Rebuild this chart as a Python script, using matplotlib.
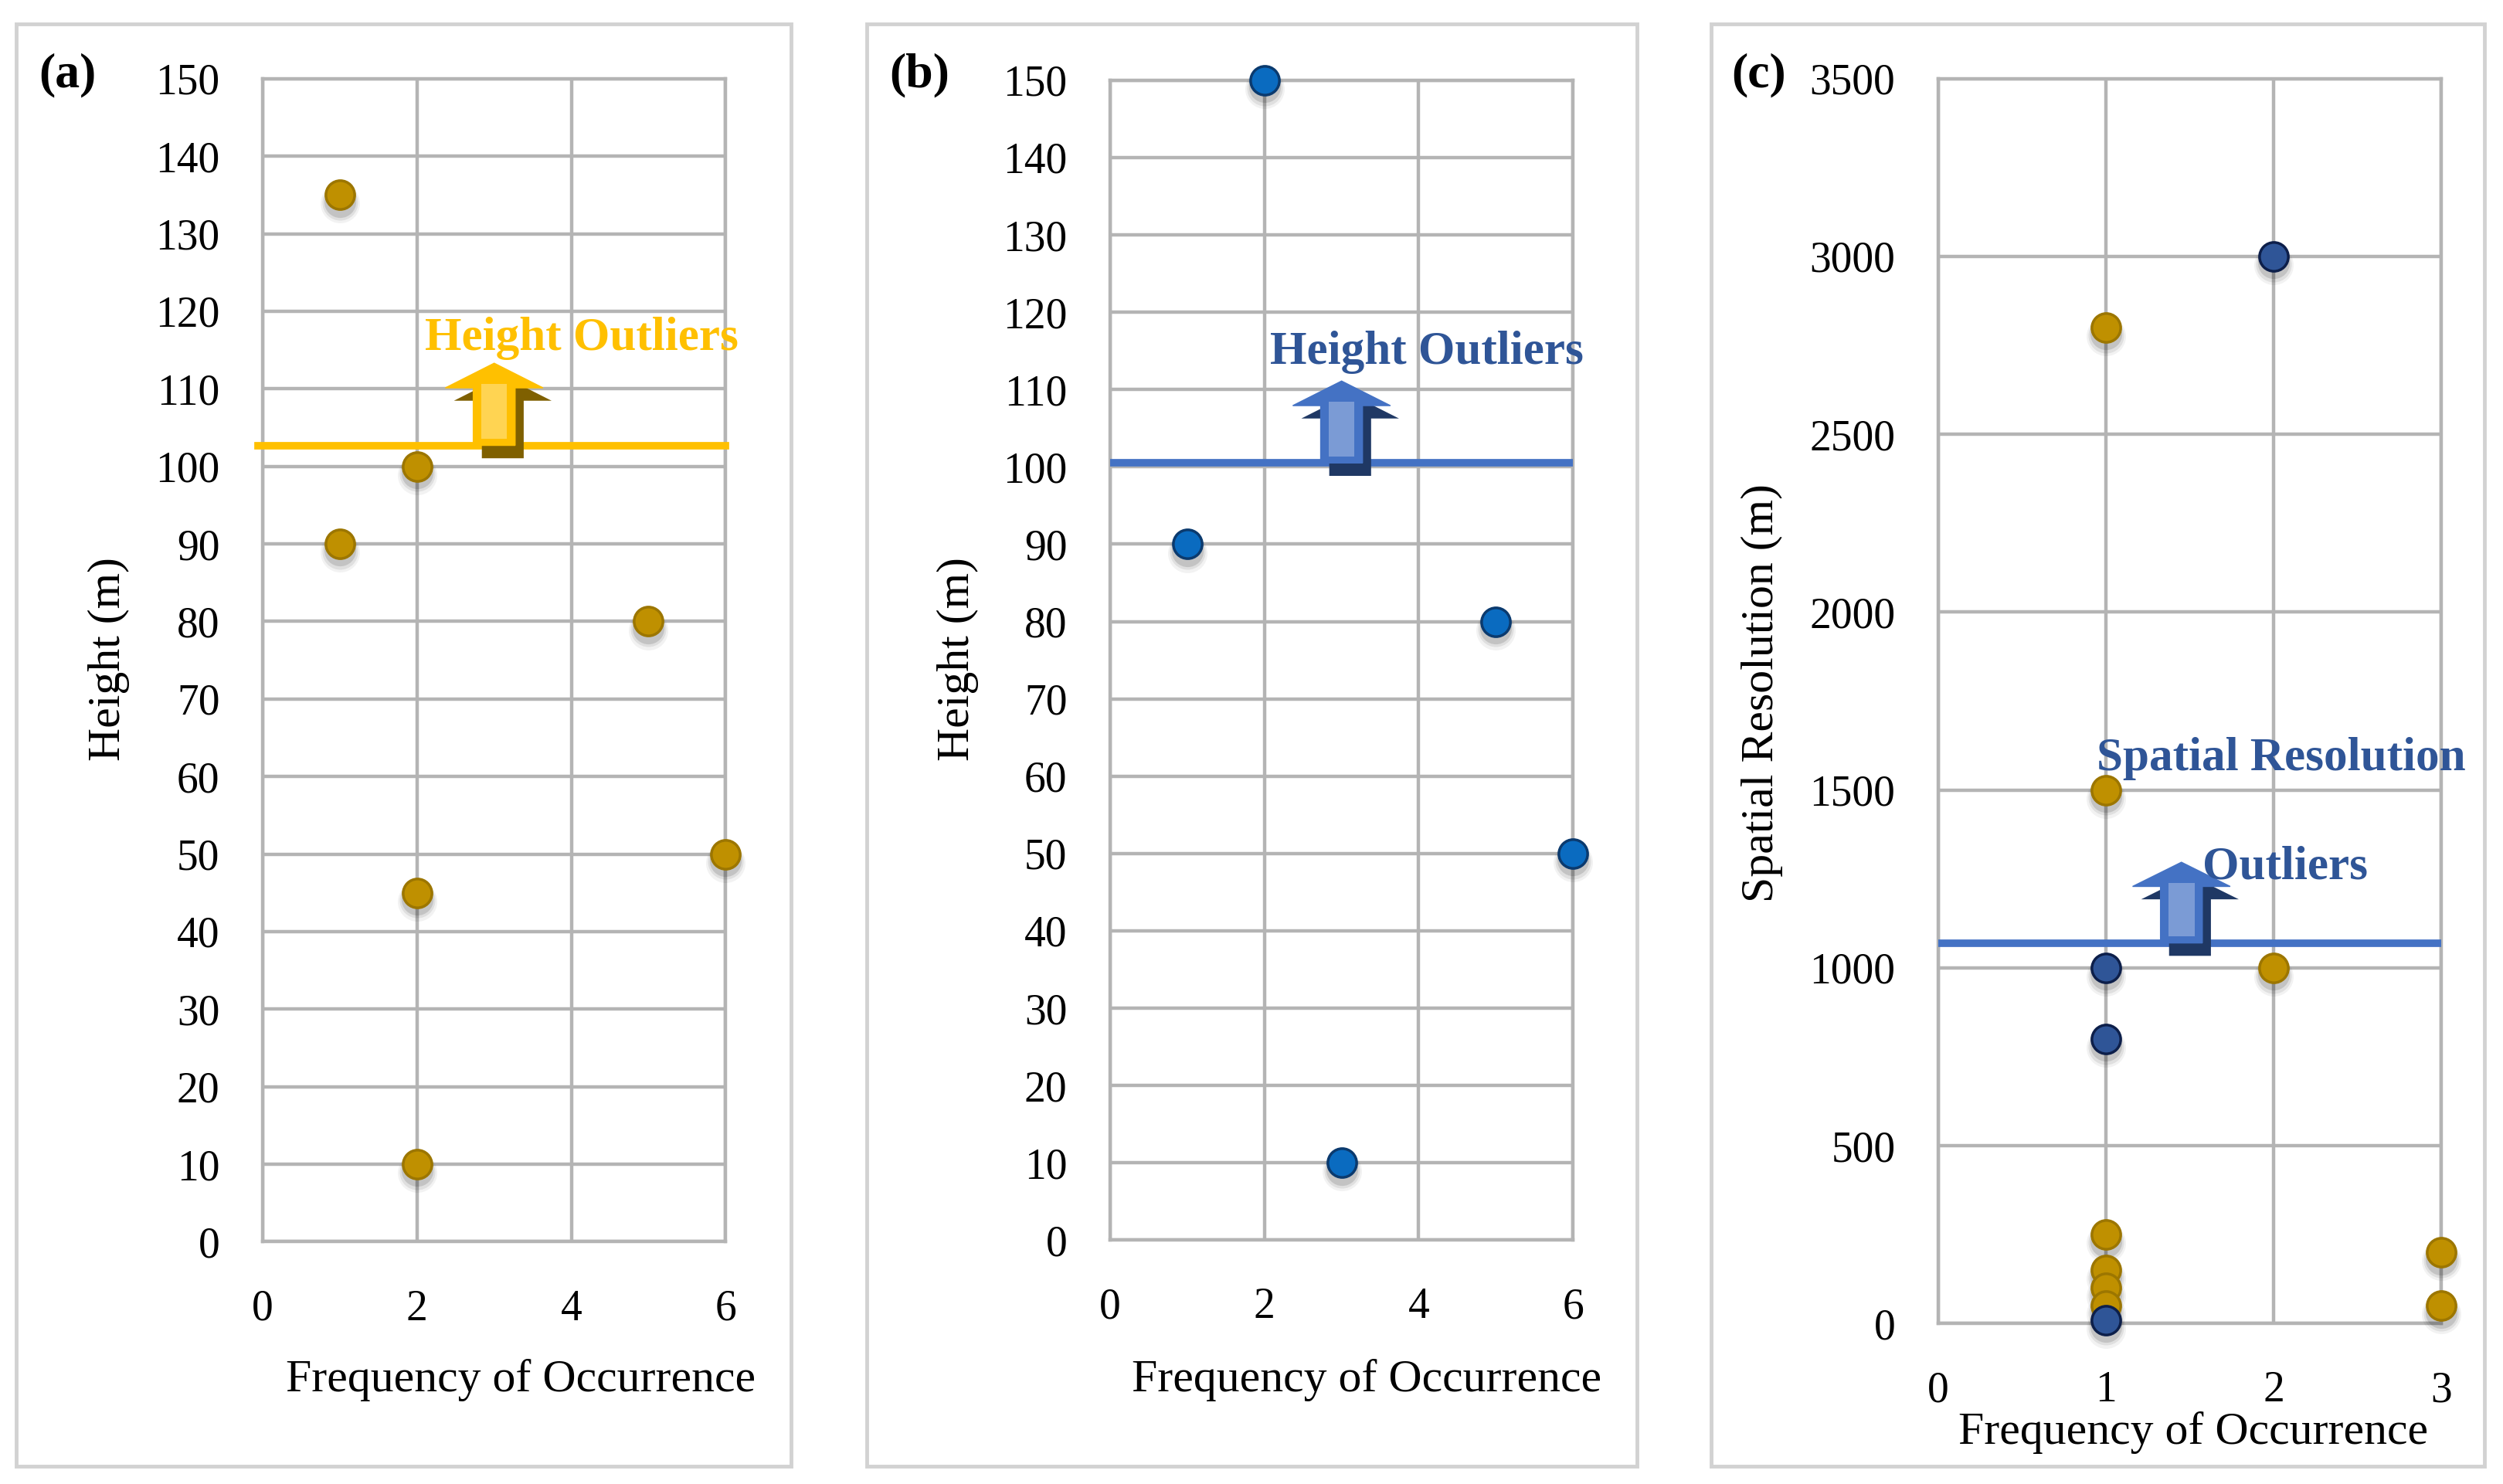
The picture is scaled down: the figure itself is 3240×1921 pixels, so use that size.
import matplotlib
matplotlib.use("Agg")
import matplotlib.pyplot as plt
from matplotlib.patches import Polygon, Rectangle
from matplotlib.transforms import ScaledTranslation

# ---------------- data ----------------
a_x = [1, 2, 1, 5, 6, 2, 2]
a_y = [135, 100, 90, 80, 50, 45, 10]
a_threshold = 102.7
a_arrow_x, a_arrow_top = 3, 113.3

b_x = [2, 1, 5, 6, 3]
b_y = [150, 90, 80, 50, 10]
b_threshold = 100.5
b_arrow_x, b_arrow_top = 3, 111.1

c_gold_x = [1, 1, 2, 1, 1, 1, 1, 3, 3]
c_gold_y = [2800, 1500, 1000, 250, 150, 100, 50, 200, 50]
c_blue_x = [2, 1, 1, 1]
c_blue_y = [3000, 1000, 800, 10]
c_threshold = 1070
c_arrow_x, c_arrow_top = 1.45, 1297

ab_xticks = [0, 2, 4, 6]
ab_yticks = list(range(0, 151, 10))
c_xticks = [0, 1, 2, 3]
c_yticks = list(range(0, 3501, 500))

SERIF = ["Liberation Serif", "DejaVu Serif"]
plt.rcParams['font.family'] = SERIF

GOLD_FILL, GOLD_EDGE = "#BF9000", "#9C7600"
BLUE_B_FILL, BLUE_B_EDGE = "#0A6BC0", "#0B3A6E"
BLUE_C_FILL, BLUE_C_EDGE = "#2F5597", "#0D1F4A"
GRID = "#B4B4B4"

W, H = 1563.0, 925.0
fig = plt.figure(figsize=(32.41, 19.21), dpi=100)

def fx(px):
    return px / W

def fy(py):
    return 1 - py / H

# panel borders
for (l, r) in [(10, 494), (541, 1022), (1068, 1551)]:
    fig.patches.append(Rectangle((fx(l), fy(914)), fx(r) - fx(l), fy(15) - fy(914),
                                 transform=fig.transFigure, fill=False,
                                 edgecolor="#D2D2D2", linewidth=3.5, zorder=0))

def make_ax(l, r, t, b):
    ax = fig.add_axes([fx(l), fy(b), fx(r) - fx(l), fy(t) - fy(b)])
    ax.set_facecolor("none")
    for s in ax.spines.values():
        s.set_color(GRID)
        s.set_linewidth(3.2)
    ax.grid(True, color=GRID, linewidth=3.2)
    ax.set_axisbelow(True)
    ax.tick_params(length=0, labelsize=40, colors="black")
    ax.tick_params(axis="y", pad=40)
    ax.tick_params(axis="x", pad=44)
    return ax

def scatter(ax, x, y, fill, edge):
    for dy, s, al in [(-8, 1350, 0.05), (-7, 1100, 0.08), (-6, 880, 0.12)]:
        off = ax.transData + ScaledTranslation(0, dy / 72, fig.dpi_scale_trans)
        ax.scatter(x, y, s=s, color="black", alpha=al, linewidths=0,
                   transform=off, zorder=4, clip_on=False)
    ax.scatter(x, y, s=720, facecolor=fill, edgecolor=edge, linewidths=2.5,
               zorder=5, clip_on=False)

def up_arrow(ax, x, y0, y1, shaft_pt, head_pt, face, light, shadow):
    # widths given in points converted to data units
    x0, x1 = ax.get_xlim()
    bbox = ax.get_position()
    ax_w_pt = bbox.width * fig.get_figwidth() * 72
    per_pt = (x1 - x0) / ax_w_pt
    sw, hw = shaft_pt * per_pt / 2, head_pt * per_pt / 2
    hl = (y1 - y0) * 0.30
    pts = [(x - sw, y0), (x + sw, y0), (x + sw, y1 - hl), (x + hw, y1 - hl),
           (x, y1), (x - hw, y1 - hl), (x - sw, y1 - hl)]
    off = ax.transData + ScaledTranslation(8 / 72, -12 / 72, fig.dpi_scale_trans)
    ax.add_patch(Polygon(pts, closed=True, facecolor=shadow, edgecolor="none",
                         transform=off, zorder=7, clip_on=False))
    ax.add_patch(Polygon(pts, closed=True, facecolor=face, edgecolor=face,
                         linewidth=1, zorder=8, clip_on=False))
    isw = sw * 0.62
    ih = (y1 - y0) * 0.08
    inner = [(x - isw, y0 + ih), (x + isw, y0 + ih), (x + isw, y1 - hl * 0.85),
             (x - isw, y1 - hl * 0.85)]
    ax.add_patch(Polygon(inner, closed=True, facecolor=light, edgecolor="none",
                         alpha=0.75, zorder=9, clip_on=False))

# ---------------- panel (a) ----------------
ax_a = make_ax(164, 453, 49, 774)
ax_a.set_xlim(0, 6)
ax_a.set_ylim(0, 150)
ax_a.set_xticks(ab_xticks)
ax_a.set_yticks(ab_yticks)
scatter(ax_a, a_x, a_y, GOLD_FILL, GOLD_EDGE)
ax_a.axhline(a_threshold, xmin=-0.01, xmax=1.0, color="#FFC000", linewidth=7, zorder=6, clip_on=False)
up_arrow(ax_a, a_arrow_x, a_threshold, a_arrow_top, 39, 91, "#FFC000", "#FFDB6E", "#7F6000")
ax_a.text(2.1, 115, "Height Outliers", color="#FFC000", fontsize=44, fontweight="bold",
          ha="left", va="baseline", zorder=10)

# ---------------- panel (b) ----------------
ax_b = make_ax(693, 982, 50, 773)
ax_b.set_xlim(0, 6)
ax_b.set_ylim(0, 150)
ax_b.set_xticks(ab_xticks)
ax_b.set_yticks(ab_yticks)
scatter(ax_b, b_x, b_y, BLUE_B_FILL, BLUE_B_EDGE)
ax_b.axhline(b_threshold, color="#4472C4", linewidth=7, zorder=6)
up_arrow(ax_b, b_arrow_x, b_threshold, b_arrow_top, 39, 91, "#4472C4", "#8EAADB", "#1F3864")
ax_b.text(2.07, 113.3, "Height Outliers", color="#2F5597", fontsize=44, fontweight="bold",
          ha="left", va="baseline", zorder=10)

# ---------------- panel (c) ----------------
ax_c = make_ax(1210, 1524, 49, 825)
ax_c.set_xlim(0, 3)
ax_c.set_ylim(0, 3500)
ax_c.set_xticks(c_xticks)
ax_c.set_yticks(c_yticks)
scatter(ax_c, c_gold_x, c_gold_y, GOLD_FILL, GOLD_EDGE)
scatter(ax_c, c_blue_x, c_blue_y, BLUE_C_FILL, BLUE_C_EDGE)
ax_c.axhline(c_threshold, color="#4472C4", linewidth=7, zorder=6)
up_arrow(ax_c, c_arrow_x, c_threshold, c_arrow_top, 39, 91, "#4472C4", "#8EAADB", "#1F3864")
ax_c.text(0.946, 1556, "Spatial Resolution", color="#2F5597", fontsize=44, fontweight="bold",
          ha="left", va="baseline", zorder=10, clip_on=False)
ax_c.text(1.576, 1250, "Outliers", color="#2F5597", fontsize=44, fontweight="bold",
          ha="left", va="baseline", zorder=10)

# ---------------- labels ----------------
for xc, yc, txt in [(68, 411, "Height (m)"), (598, 411, "Height (m)"),
                    (1100, 432, "Spatial Resolution (m)")]:
    fig.text(fx(xc), fy(yc), txt, rotation=90, ha="center", va="center", fontsize=43)
for xc, yc in [(325, 860), (853, 860), (1369, 893)]:
    fig.text(fx(xc), fy(yc), "Frequency of Occurrence", ha="center", va="center", fontsize=43)
for xc, txt in [(42, "(a)"), (574, "(b)"), (1098, "(c)")]:
    fig.text(fx(xc), fy(47), txt, ha="center", va="center", fontsize=46, fontweight="bold")

fig.savefig("out.png", dpi=100, facecolor="white")
